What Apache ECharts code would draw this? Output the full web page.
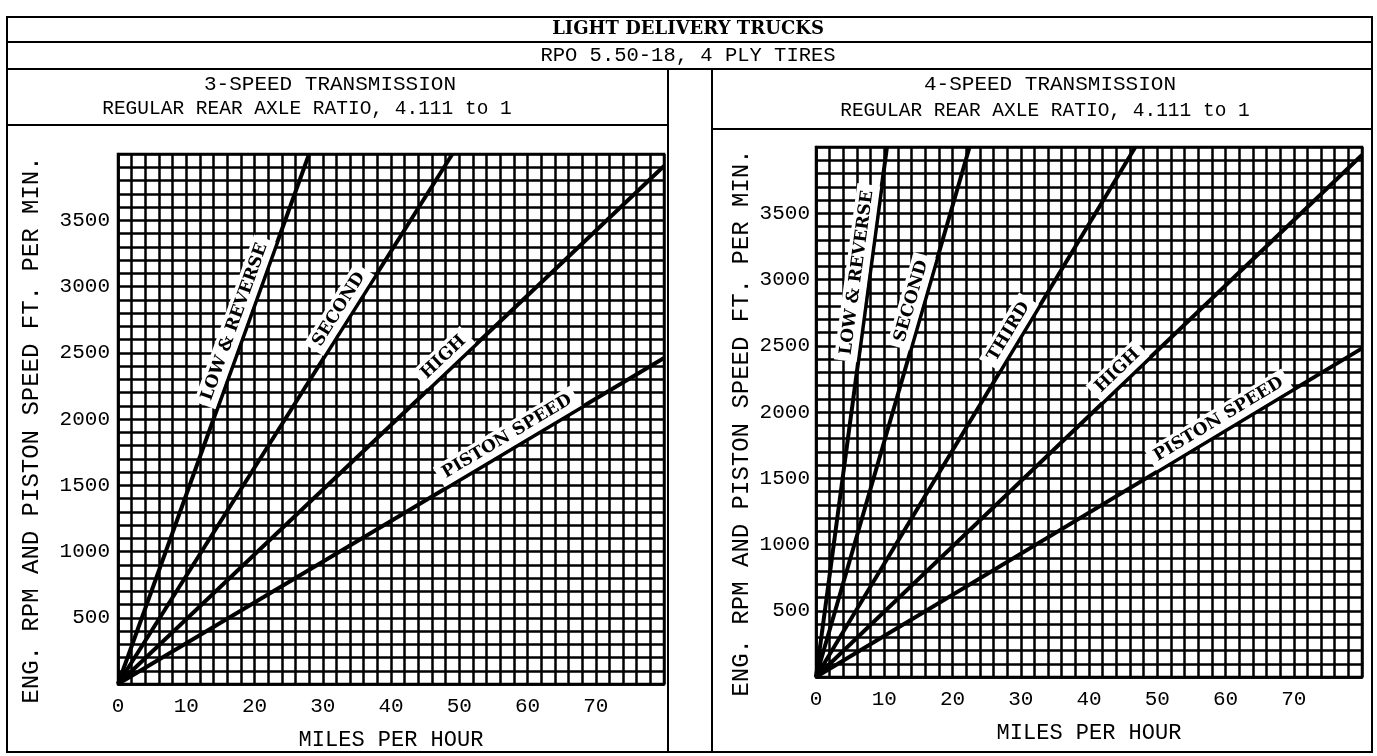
<!DOCTYPE html>
<html><head><meta charset="utf-8">
<script src="https://cdn.jsdelivr.net/npm/echarts/dist/echarts.min.js"></script>
<style>html,body{margin:0;padding:0;background:#fff}#c{width:1377px;height:756px}</style>
</head><body><div id="c"></div>
<script>
// ---------- data ----------
const xTickLabels = [0, 10, 20, 30, 40, 50, 60, 70];
const yTickLabels = [500, 1000, 1500, 2000, 2500, 3000, 3500];

// 3-speed transmission (mph, rpm / ft per min)
const names3 = ['LOW & REVERSE', 'SECOND', 'HIGH', 'PISTON SPEED'];
const low3 = [[0, 0], [28, 4000]];
const second3 = [[0, 0], [49, 4000]];
const high3 = [[0, 0], [80, 3910]];
const piston3 = [[0, 0], [80, 2460]];
const labelMph3 = [18.9, 34.0, 49.0, 58.0];

// 4-speed transmission
const names4 = ['LOW & REVERSE', 'SECOND', 'THIRD', 'HIGH', 'PISTON SPEED'];
const low4 = [[0, 0], [10.4, 4000]];
const second4 = [[0, 0], [22.5, 4000]];
const third4 = [[0, 0], [46.8, 4000]];
const high4 = [[0, 0], [80, 3940]];
const piston4 = [[0, 0], [80, 2480]];
const labelMph4 = [7.9, 15.8, 29.9, 45.5, 60.0];

// ---------- styling ----------
const MONO = '"Liberation Mono", "DejaVu Sans Mono", monospace';
const SERIF = '"DejaVu Serif", "Liberation Serif", serif';
const INK = '#000';

function xAxis(gi, margin, gap) {
  return {
    type: 'value', gridIndex: gi, min: 0, max: 80, interval: 2,
    name: 'MILES PER HOUR', nameLocation: 'middle', nameGap: gap,
    nameTextStyle: { fontFamily: MONO, fontSize: 22, color: INK },
    axisLine: { show: true, lineStyle: { color: INK, width: 2.5 } },
    axisTick: { show: false },
    axisLabel: {
      margin: margin, fontFamily: MONO, fontSize: 21, color: INK,
      formatter: v => xTickLabels.indexOf(v) >= 0 ? String(v) : ''
    },
    splitLine: { show: true, lineStyle: { color: INK, width: 2.5 } }
  };
}
function yAxis(gi, margin, gap) {
  return {
    type: 'value', gridIndex: gi, min: 0, max: 4000, interval: 100,
    name: 'ENG. RPM AND PISTON SPEED FT. PER MIN.', nameLocation: 'middle',
    nameGap: gap, nameRotate: 90,
    nameTextStyle: { fontFamily: MONO, fontSize: 24, color: INK, padding: [0, 22, 0, 0] },
    axisLine: { show: true, lineStyle: { color: INK, width: 2.5 } },
    axisTick: { show: false },
    axisLabel: {
      margin: margin, fontFamily: MONO, fontSize: 21, color: INK,
      formatter: v => yTickLabels.indexOf(v) >= 0 ? String(v) : ''
    },
    splitLine: { show: true, lineStyle: { color: INK, width: 2.5 } }
  };
}
function lineSeries(name, data, idx) {
  return {
    type: 'line', name: name, data: data, xAxisIndex: idx, yAxisIndex: idx,
    showSymbol: false, symbol: 'none', silent: true, z: 5,
    lineStyle: { color: INK, width: 4 }
  };
}

const data3 = [low3, second3, high3, piston3];
const data4 = [low4, second4, third4, high4, piston4];

const option = {
  animation: false,
  backgroundColor: '#fff',
  grid: [
    { left: 118, top: 154, width: 546, height: 530, show: true, borderColor: INK, borderWidth: 2.5, containLabel: false },
    { left: 816, top: 147, width: 546, height: 530, show: true, borderColor: INK, borderWidth: 2.5, containLabel: false }
  ],
  xAxis: [xAxis(0, 12, 45), xAxis(1, 12, 45)],
  yAxis: [yAxis(0, 8, 74), yAxis(1, 6, 62)],
  series: [].concat(
    data3.map((d, i) => lineSeries(names3[i], d, 0)),
    data4.map((d, i) => lineSeries(names4[i], d, 1))
  )
};

const chart = echarts.init(document.getElementById('c'));
chart.setOption(option);

function txt(text, x, y, font) {
  return { type: 'text', x: x, y: y, silent: true, z: 20,
    style: { text: text, font: font, fill: INK, align: 'center', verticalAlign: 'middle',
      textAlign: 'center', textVerticalAlign: 'middle' } };
}
function line(x1, y1, x2, y2) {
  return { type: 'line', silent: true, z: 20,
    shape: { x1: x1, y1: y1, x2: x2, y2: y2 }, style: { stroke: INK, lineWidth: 2 } };
}

const frame = [
  { type: 'rect', silent: true, z: 20, shape: { x: 7, y: 17, width: 1365, height: 735 },
    style: { fill: 'none', stroke: INK, lineWidth: 2 } },
  line(7, 42, 1372, 42),
  line(7, 69, 1372, 69),
  line(668, 69, 668, 752),
  line(712, 69, 712, 752),
  line(7, 125, 668, 125),
  line(712, 129, 1372, 129),
  txt('LIGHT DELIVERY TRUCKS', 688, 29, 'bold 18px ' + SERIF),
  txt('RPO 5.50-18, 4 PLY TIRES', 688, 56, '20.5px ' + MONO),
  txt('3-SPEED TRANSMISSION', 330, 84, '21px ' + MONO),
  txt('REGULAR REAR AXLE RATIO, 4.111 to 1', 307, 109, '19.5px ' + MONO),
  txt('4-SPEED TRANSMISSION', 1050, 84, '21px ' + MONO),
  txt('REGULAR REAR AXLE RATIO, 4.111 to 1', 1045, 111, '19.5px ' + MONO)
];

// labels along lines, positioned via the chart's own scales
const lineLabels = [];
function addLabels(names, datas, mphs, idx) {
  names.forEach((nm, i) => {
    const end = datas[i][datas[i].length - 1];
    const p0 = chart.convertToPixel({ xAxisIndex: idx, yAxisIndex: idx }, [0, 0]);
    const p1 = chart.convertToPixel({ xAxisIndex: idx, yAxisIndex: idx }, end);
    const dx = p1[0] - p0[0], dy = p1[1] - p0[1];
    const len = Math.sqrt(dx * dx + dy * dy);
    const ux = dx / len, uy = dy / len;
    const slope = end[1] / end[0];
    const foot = chart.convertToPixel({ xAxisIndex: idx, yAxisIndex: idx }, [mphs[i], mphs[i] * slope]);
    const off = 13;
    const cx = foot[0] + uy * off, cy = foot[1] - ux * off;
    lineLabels.push({
      type: 'text', x: cx, y: cy, rotation: Math.atan2(-dy, dx), silent: true, z: 15,
      style: { text: nm, font: 'bold 17px ' + SERIF, fill: INK, backgroundColor: '#fff',
        padding: [3, 6], align: 'center', verticalAlign: 'middle',
        textAlign: 'center', textVerticalAlign: 'middle' }
    });
  });
}
addLabels(names3, data3, labelMph3, 0);
addLabels(names4, data4, labelMph4, 1);

chart.setOption({ graphic: frame.concat(lineLabels) });
</script>
</body></html>
